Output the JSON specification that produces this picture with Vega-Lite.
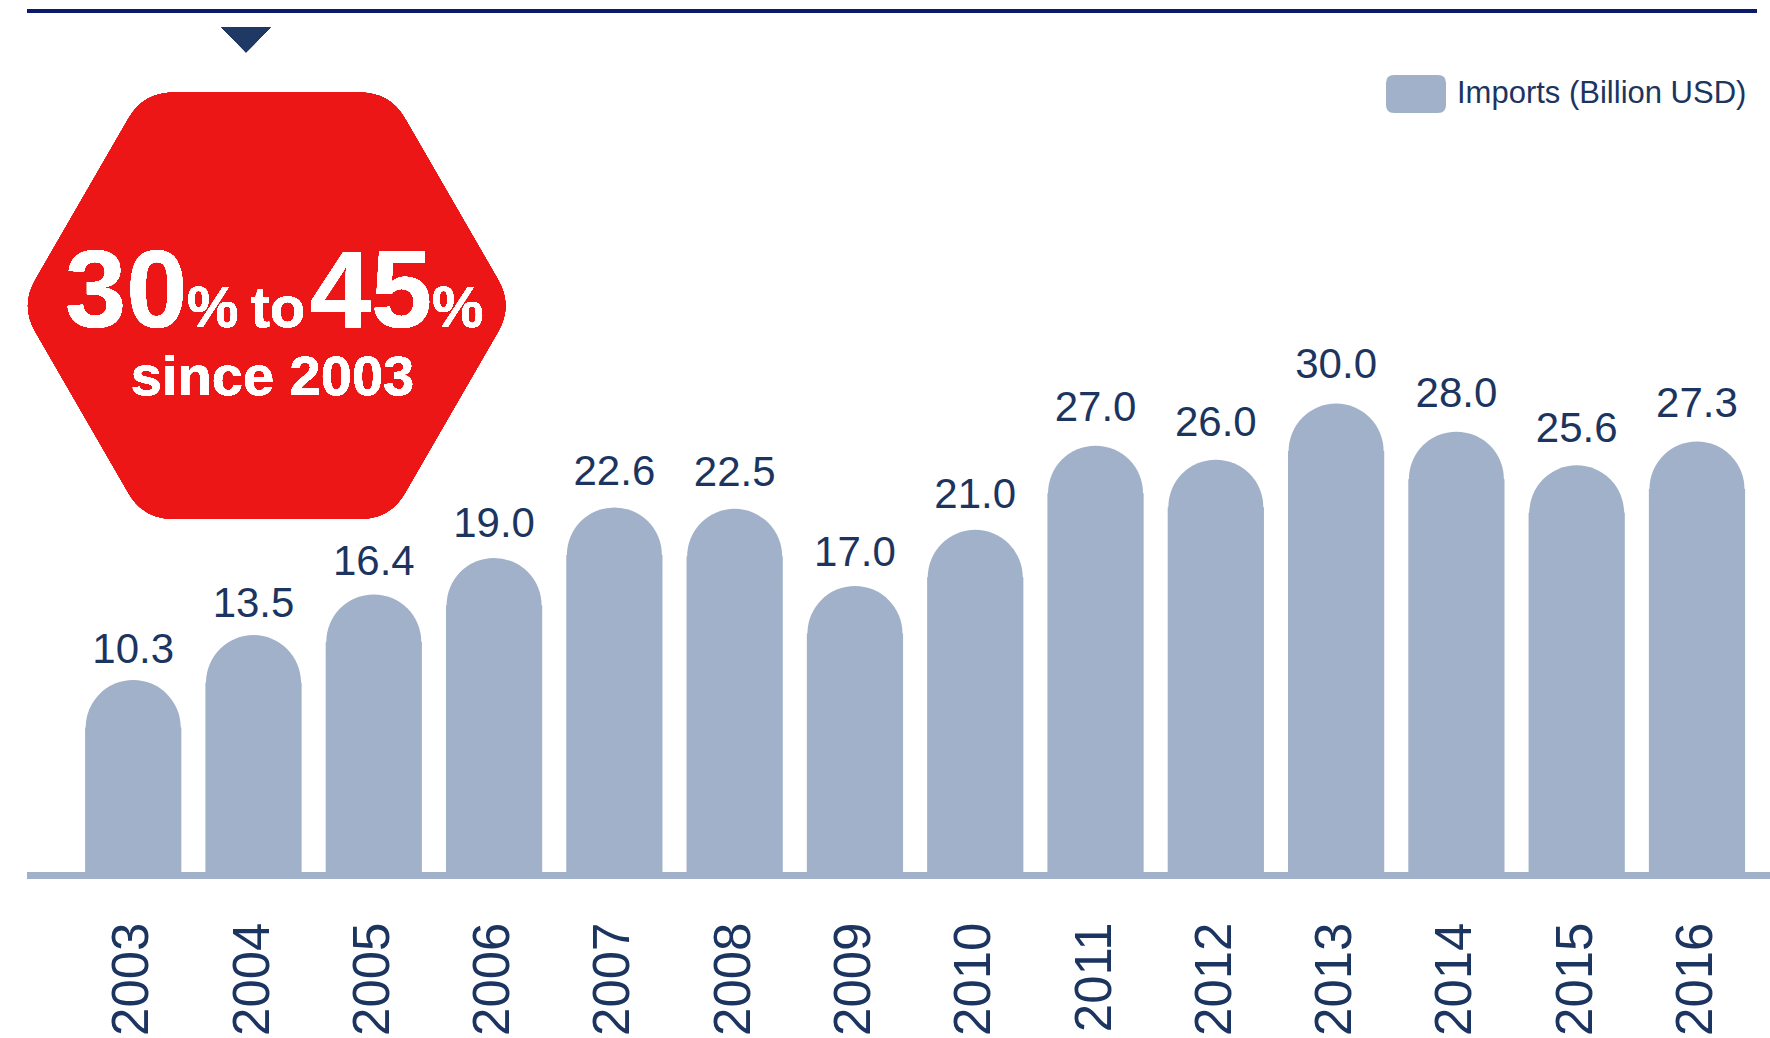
{
  "$schema": "https://vega.github.io/schema/vega-lite/v6.json",
  "width": 1743,
  "height": 872,
  "autosize": {"type": "none"},
  "padding": {"left": 27, "top": 0, "right": 0, "bottom": 166},
  "background": "white",
  "config": {"view": {"stroke": null}, "font": "Liberation Sans", "axisY": {"disable": true}},
  "data": {
    "values": [
      {"year": "2003", "value": 10.3, "series": "Imports (Billion USD)"},
      {"year": "2004", "value": 13.5, "series": "Imports (Billion USD)"},
      {"year": "2005", "value": 16.4, "series": "Imports (Billion USD)"},
      {"year": "2006", "value": 19.0, "series": "Imports (Billion USD)"},
      {"year": "2007", "value": 22.6, "series": "Imports (Billion USD)"},
      {"year": "2008", "value": 22.5, "series": "Imports (Billion USD)"},
      {"year": "2009", "value": 17.0, "series": "Imports (Billion USD)"},
      {"year": "2010", "value": 21.0, "series": "Imports (Billion USD)"},
      {"year": "2011", "value": 27.0, "series": "Imports (Billion USD)"},
      {"year": "2012", "value": 26.0, "series": "Imports (Billion USD)"},
      {"year": "2013", "value": 30.0, "series": "Imports (Billion USD)"},
      {"year": "2014", "value": 28.0, "series": "Imports (Billion USD)"},
      {"year": "2015", "value": 25.6, "series": "Imports (Billion USD)"},
      {"year": "2016", "value": 27.3, "series": "Imports (Billion USD)"}
    ]
  },
  "layer": [
    {
      "encoding": {
        "x": {
          "field": "year",
          "type": "ordinal",
          "scale": {"paddingInner": 0.2, "paddingOuter": 0.345, "align": 0.7, "round": false},
          "axis": {
            "title": null,
            "domain": false,
            "ticks": false,
            "tickSize": 0,
            "labelAngle": -90,
            "labelAlign": "right",
            "labelBaseline": "middle",
            "labelPadding": 50,
            "labelFont": "Liberation Sans",
            "labelFontSize": 51,
            "labelColor": "#1c3560",
            "labelLimit": 300
          }
        }
      },
      "layer": [
        {
          "mark": {"type": "bar", "opacity": 1},
          "encoding": {
            "y": {"field": "value", "type": "quantitative", "scale": {"domain": [0, 62.15], "nice": false, "zero": true}, "axis": null},
            "color": {
              "field": "series",
              "type": "nominal",
              "scale": {"range": ["#a1b1c9"]},
              "legend": {
                "orient": "none",
                "legendX": 1359,
                "legendY": 64,
                "title": null,
                "padding": 0,
                "symbolType": "M-0.733,-0.633 L0.733,-0.633 Q1,-0.633 1,-0.367 L1,0.367 Q1,0.633 0.733,0.633 L-0.733,0.633 Q-1,0.633 -1,0.367 L-1,-0.367 Q-1,-0.633 -0.733,-0.633 Z",
                "symbolSize": 3600,
                "symbolStrokeWidth": 0,
                "symbolOpacity": 1,
                "labelFont": "Liberation Sans",
                "labelFontSize": 31,
                "labelColor": "#1c3560",
                "labelOffset": 11,
                "labelLimit": 400
              }
            }
          }
        },
        {
          "mark": {"type": "circle", "size": 9025, "opacity": 1, "color": "#a1b1c9"},
          "encoding": {
            "y": {"field": "value", "type": "quantitative", "scale": {"domain": [0, 62.15], "nice": false, "zero": true}, "axis": null}
          }
        },
        {
          "mark": {"type": "text", "fontSize": 42, "color": "#1c3560", "dy": -60, "baseline": "alphabetic", "font": "Liberation Sans"},
          "encoding": {
            "y": {"field": "value", "type": "quantitative", "scale": {"domain": [0, 60.26], "nice": false, "zero": true}, "axis": null},
            "text": {"field": "value", "type": "quantitative", "format": ".1f"}
          }
        }
      ],
      "resolve": {"scale": {"y": "independent"}, "axis": {"y": "independent"}}
    },
    {
      "mark": {"type": "rule", "color": "#a1b1c9", "strokeWidth": 7, "yOffset": 3.5},
      "encoding": {"y": {"datum": 0, "type": "quantitative", "scale": {"domain": [0, 62.15], "nice": false, "zero": true}, "axis": null}}
    },
    {
      "mark": {"type": "rule", "color": "#0b1a6b", "strokeWidth": 3, "xOffset": -13},
      "encoding": {"y": {"datum": 61.38, "type": "quantitative", "axis": null}}
    },
    {
      "mark": {
        "type": "point",
        "shape": "M-0.9252,-0.104 L-0.5528,-0.7492 Q-0.4928,-0.8532 -0.3728,-0.8532 L0.3728,-0.8532 Q0.4928,-0.8532 0.5528,-0.7492 L0.9252,-0.104 Q0.9852,0 0.9252,0.104 L0.5528,0.7492 Q0.4928,0.8532 0.3728,0.8532 L-0.3728,0.8532 Q-0.4928,0.8532 -0.5528,0.7492 L-0.9252,0.104 Q-0.9852,0 -0.9252,-0.104 Z",
        "size": 250000,
        "filled": true,
        "opacity": 1,
        "color": "#ec1616",
        "strokeWidth": 0,
        "xOffset": 13.2
      },
      "encoding": {
        "x": {"datum": "2004", "type": "ordinal"},
        "y": {"datum": 40.36, "type": "quantitative", "axis": null}
      }
    },
    {
      "mark": {"type": "text", "text": "30", "font": "Liberation Sans", "fontWeight": "bold", "fontSize": 110, "color": "white", "align": "left", "baseline": "alphabetic", "dx": -188.5, "dy": 21},
      "encoding": {"x": {"datum": "2004", "type": "ordinal"}, "y": {"datum": 40.36, "type": "quantitative", "axis": null}}
    },
    {
      "mark": {"type": "text", "text": "%", "font": "Liberation Sans", "fontWeight": "bold", "fontSize": 58, "color": "white", "align": "left", "baseline": "alphabetic", "dx": -66.5, "dy": 21},
      "encoding": {"x": {"datum": "2004", "type": "ordinal"}, "y": {"datum": 40.36, "type": "quantitative", "axis": null}}
    },
    {
      "mark": {"type": "text", "text": "to", "font": "Liberation Sans", "fontWeight": "bold", "fontSize": 58, "color": "white", "align": "left", "baseline": "alphabetic", "dx": -3, "dy": 21},
      "encoding": {"x": {"datum": "2004", "type": "ordinal"}, "y": {"datum": 40.36, "type": "quantitative", "axis": null}}
    },
    {
      "mark": {"type": "text", "text": "45", "font": "Liberation Sans", "fontWeight": "bold", "fontSize": 110, "color": "white", "align": "left", "baseline": "alphabetic", "dx": 56.2, "dy": 21},
      "encoding": {"x": {"datum": "2004", "type": "ordinal"}, "y": {"datum": 40.36, "type": "quantitative", "axis": null}}
    },
    {
      "mark": {"type": "text", "text": "%", "font": "Liberation Sans", "fontWeight": "bold", "fontSize": 58, "color": "white", "align": "left", "baseline": "alphabetic", "dx": 178.5, "dy": 21},
      "encoding": {"x": {"datum": "2004", "type": "ordinal"}, "y": {"datum": 40.36, "type": "quantitative", "axis": null}}
    },
    {
      "mark": {"type": "text", "text": "since 2003", "font": "Liberation Sans", "fontWeight": "bold", "fontSize": 56, "color": "white", "align": "center", "baseline": "alphabetic", "dx": 19, "dy": 89.3},
      "encoding": {"x": {"datum": "2004", "type": "ordinal"}, "y": {"datum": 40.36, "type": "quantitative", "axis": null}}
    },
    {
      "mark": {
        "type": "point",
        "shape": "M-1,-0.51 L1,-0.51 L0,0.51 Z",
        "size": 2401,
        "filled": true,
        "opacity": 1,
        "color": "#1f3864",
        "strokeWidth": 0,
        "xOffset": -7.5
      },
      "encoding": {
        "x": {"datum": "2004", "type": "ordinal"},
        "y": {"datum": 59.31, "type": "quantitative", "axis": null}
      }
    }
  ]
}
